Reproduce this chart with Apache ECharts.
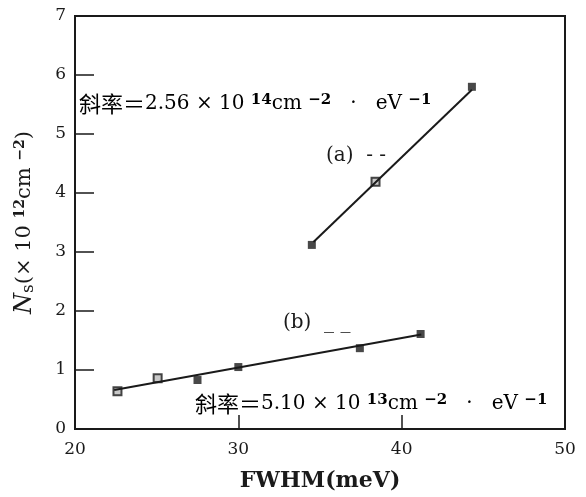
<!DOCTYPE html>
<html>
<head>
<meta charset="utf-8">
<script src="https://cdn.jsdelivr.net/npm/echarts@6/dist/echarts.min.js"></script>
<style>html,body{margin:0;padding:0;background:#fff;}#c{width:586px;height:497px;}</style>
</head>
<body>
<div id="c"></div>
<script>
// Data
const xTicks = [20, 30, 40, 50];
const yTicks = [0, 1, 2, 3, 4, 5, 6, 7];
const fwhmA = [34.5, 38.4, 44.3];
const nsA = [3.12, 4.19, 5.80];
const hollowA = [false, true, false];
const fwhmB = [22.6, 25.06, 27.5, 30.0, 37.44, 41.16];
const nsB = [0.64, 0.86, 0.83, 1.05, 1.37, 1.61];
const hollowB = [true, true, false, false, false, false];
const fitAx = [34.6, 44.3];
const fitAy = [3.17, 5.75];
const fitBx = [22.4, 41.2];
const fitBy = [0.66, 1.60];

const SERIF = 'DejaVu Serif';
const CJK = 'Noto Sans CJK SC';
const INK = '#1a1a1a';

function pts(xs, ys) { return xs.map((x, i) => [x, ys[i]]); }
function markers(xs, ys, hollow, wantHollow) {
  const out = [];
  xs.forEach((x, i) => { if (hollow[i] === wantHollow) out.push([x, ys[i]]); });
  return out;
}

const chart = echarts.init(document.getElementById('c'), null, {renderer: 'canvas'});

const richBase = {
  n: {fontFamily: SERIF, fontSize: 20, color: INK},
  c: {fontFamily: CJK, fontSize: 22, color: INK},
  sup: {fontFamily: SERIF, fontSize: 15, color: INK, verticalAlign: 'top', fontWeight: 'bold'}
};

chart.setOption({
  animation: false,
  backgroundColor: '#fff',
  grid: {left: 75, right: 21, top: 16, bottom: 67, show: true, borderColor: INK, borderWidth: 2, backgroundColor: 'transparent'},
  xAxis: {
    type: 'value', min: xTicks[0], max: xTicks[xTicks.length - 1], interval: 10,
    name: 'FWHM(meV)', nameLocation: 'middle', nameGap: 41,
    nameTextStyle: {fontFamily: SERIF, fontSize: 22, fontWeight: 'bold', color: INK},
    axisLine: {lineStyle: {color: INK, width: 2}},
    axisTick: {inside: true, length: 14, lineStyle: {color: INK, width: 1.5}},
    axisLabel: {fontFamily: SERIF, fontSize: 17, color: INK, margin: 12},
    splitLine: {show: false}
  },
  yAxis: {
    type: 'value', min: yTicks[0], max: yTicks[yTicks.length - 1], interval: 1,
    name: '{i|N}{sub|s}{n|(× 10 }{sup|12}{n|cm }{sup|−2}{n|)}',
    nameLocation: 'middle', nameGap: 38,
    nameTextStyle: {
      rich: {
        i: {fontFamily: SERIF, fontSize: 24, fontStyle: 'italic', color: INK},
        sub: {fontFamily: SERIF, fontSize: 17, color: INK, verticalAlign: 'bottom'},
        n: {fontFamily: SERIF, fontSize: 21, color: INK},
        sup: {fontFamily: SERIF, fontSize: 14, color: INK, verticalAlign: 'top', fontWeight: 'bold'}
      }
    },
    axisLine: {lineStyle: {color: INK, width: 2}},
    axisTick: {inside: true, length: 19, lineStyle: {color: INK, width: 1.5}},
    axisLabel: {fontFamily: SERIF, fontSize: 17, color: INK, margin: 9},
    splitLine: {show: false}
  },
  series: [
    {type: 'line', data: pts(fitAx, fitAy), symbol: 'none', lineStyle: {color: INK, width: 2}, silent: true},
    {type: 'line', data: pts(fitBx, fitBy), symbol: 'none', lineStyle: {color: INK, width: 2}, silent: true},
    {type: 'scatter', data: markers(fwhmA, nsA, hollowA, false).concat(markers(fwhmB, nsB, hollowB, false)),
     symbol: 'rect', symbolSize: 8, itemStyle: {color: INK}},
    {type: 'scatter', data: markers(fwhmA, nsA, hollowA, true).concat(markers(fwhmB, nsB, hollowB, true)),
     symbol: 'rect', symbolSize: 8, itemStyle: {color: '#bbb', borderColor: INK, borderWidth: 2}}
  ],
  graphic: [
    {type: 'text', left: 79, top: 93, style: {
      text: '{c|斜率＝}{n|2.56 × 10 }{sup|14}{n|cm }{sup|−2}{n|   ·   eV }{sup|−1}',
      rich: richBase}},
    {type: 'text', left: 195, top: 393, style: {
      text: '{c|斜率＝}{n|5.10 × 10 }{sup|13}{n|cm }{sup|−2}{n|   ·   eV }{sup|−1}',
      rich: richBase}},
    {type: 'text', left: 326, top: 146, style: {
      text: '(a)  - -', font: '20px "DejaVu Serif"', fill: INK}},
    {type: 'text', left: 283, top: 313, style: {
      text: '(b)  _ _', font: '20px "DejaVu Serif"', fill: INK}}
  ]
});
</script>
</body>
</html>
